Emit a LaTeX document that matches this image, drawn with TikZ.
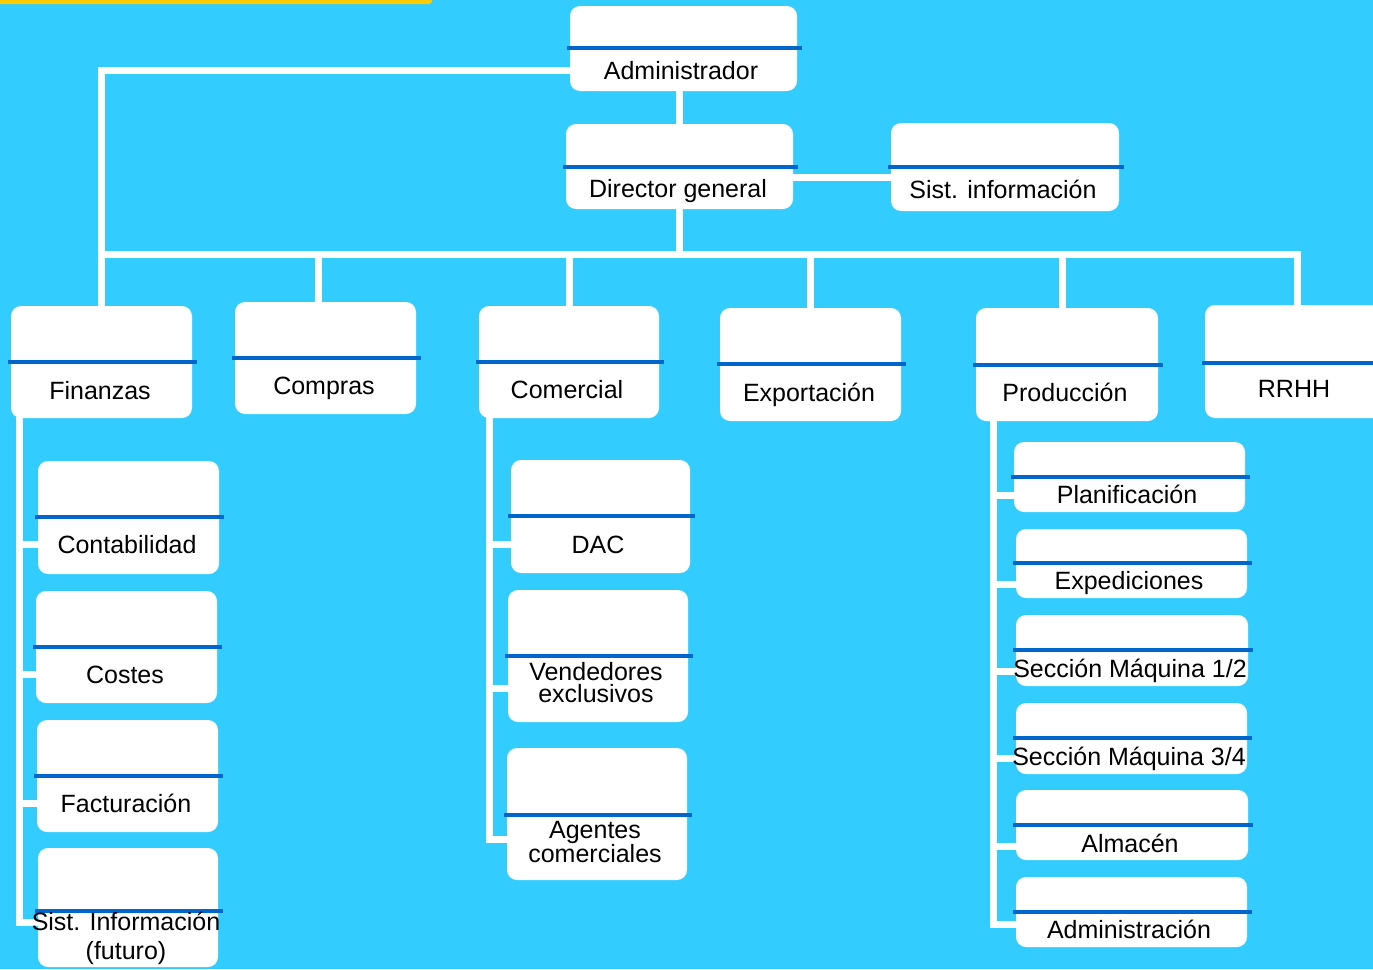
\documentclass[tikz,border=0pt]{standalone}
\usepackage{fontspec}
\setmainfont{Liberation Sans}
\pgfdeclarelayer{back}
\pgfsetlayers{back,main}
\definecolor{sky}{HTML}{33CCFF}
\definecolor{band}{HTML}{0066CC}
\definecolor{gold}{HTML}{FFCC00}
\tikzset{
  unitbox/.style={fill=white, draw=none, rounded corners=10pt, inner sep=0pt, outer sep=0pt},
  bandline/.style={draw=band, line width=4pt},
  link/.style={draw=white, line width=7pt, line cap=rect},
  lbl/.style={font=\fontsize{25}{30}\selectfont, text=black, inner sep=0pt, text height=18pt, text depth=0pt},
  lbltwo/.style={font=\fontsize{25}{22}\selectfont, text=black, inner sep=0pt, align=center},
  lblwide/.style={font=\fontsize{25}{29}\selectfont, text=black, inner sep=0pt, align=center}
}
% \orgunit{name}{x1}{y1}{x2}{y2}{band y}{entry y}
\newcommand\orgunit[7]{%
  \node[unitbox, minimum width={#4-#2}, minimum height={#5-#3}] (#1) at ({(#2+#4)/2},{(#3+#5)/2}) {};
  \draw[bandline] (#2-3,#6) -- (#4+5,#6);
  \coordinate (#1-in) at (#2,#7);
}
\begin{document}
\begin{tikzpicture}[x=1pt,y=-1pt]
\useasboundingbox (0,0) rectangle (1373,969);
\clip (0,0) rectangle (1373,969);
\begin{pgfonlayer}{back}
  \fill[sky] (0,0) rectangle (1373,969);
  \fill[gold, rounded corners=3pt] (-10,-10) rectangle (432,4);
\end{pgfonlayer}

% top management
\orgunit{adm}{570}{6}{797}{91}{48}{70}
\orgunit{dir}{566}{124}{793}{209}{167}{177}
\orgunit{si}{891}{123}{1119}{211}{167}{177}
\node[lbl] (adm-t) at (681,70) {Administrador};
\node[lbl] (dir-t) at (678,188) {Director general};
\node[lbl] (si-t) at (1003,189) {Sist. información};

% departments
\orgunit{fin}{11}{306}{192}{418}{362}{390}
\orgunit{comp}{235}{302}{416}{414}{358}{385}
\orgunit{com}{479}{306}{659}{418}{362}{389}
\orgunit{exp}{720}{308}{901}{421}{364}{392}
\orgunit{prod}{976}{308}{1158}{421}{365}{392}
\orgunit{rrhh}{1205}{305}{1390}{418}{363}{388}
\node[lbl] (fin-t) at (100,390) {Finanzas};
\node[lbl] (comp-t) at (324,385) {Compras};
\node[lbl] (com-t) at (567,389) {Comercial};
\node[lbl] (exp-t) at (809,392) {Exportación};
\node[lbl] (prod-t) at (1065,392) {Producción};
\node[lbl] (rrhh-t) at (1294,388) {RRHH};

% finance sections
\orgunit{cont}{38}{461}{219}{574}{517}{544}
\orgunit{cost}{36}{591}{217}{703}{647}{674}
\orgunit{fact}{37}{720}{218}{832}{776}{803}
\orgunit{sif}{38}{848}{218}{967}{911}{922}
\node[lbl] (cont-t) at (127,544) {Contabilidad};
\node[lbl] (cost-t) at (125,674) {Costes};
\node[lbl] (fact-t) at (126,803) {Facturación};
\node[lblwide] (sif-t) at (126,938) {Sist. Información\\(futuro)};

% sales sections
\orgunit{dac}{511}{460}{690}{573}{516}{544}
\orgunit{vend}{508}{590}{688}{722}{656}{688}
\orgunit{agen}{507}{748}{687}{880}{815}{839}
\node[lbl] (dac-t) at (598,544) {DAC};
\node[lbltwo] (vend-t) at (596,683) {Vendedores\\exclusivos};
\node[lbltwo] (agen-t) at (595,842) {Agentes\\comerciales};

% production sections
\orgunit{plan}{1014}{442}{1245}{512}{477}{495}
\orgunit{expe}{1016}{529}{1247}{598}{563}{584}
\orgunit{smA}{1016}{615}{1248}{686}{650}{671}
\orgunit{smB}{1016}{703}{1247}{774}{738}{758}
\orgunit{alm}{1016}{790}{1248}{860}{825}{846}
\orgunit{admn}{1016}{877}{1247}{947}{912}{924}
\node[lbl] (plan-t) at (1127,494) {Planificación};
\node[lbl] (expe-t) at (1129,580) {Expediciones};
\node[lbl] (smA-t) at (1130,668) {Sección Máquina 1/2};
\node[lbl] (smB-t) at (1129,756) {Sección Máquina 3/4};
\node[lbl] (alm-t) at (1130,843) {Almacén};
\node[lbl] (admn-t) at (1129,929) {Administración};

% connectors
\begin{pgfonlayer}{back}
  \coordinate (bus) at (678,254);
  \draw[link] (dir.north |- adm.south) -- (dir.north);
  \draw[link] (dir-in -| dir.east) -- (si-in);
  \draw[link] (adm.west |- adm-t) -| (fin.north);
  \draw[link] (dir.south) -- (dir.south |- bus);
  \draw[link] (fin.north |- bus) -- (rrhh.north |- bus);
  \draw[link] ([xshift=-7pt]comp.north |- bus) -- ([xshift=-7pt]comp.north);
  \draw[link] ([xshift=-5pt]prod.north |- bus) -- ([xshift=-5pt]prod.north);
  \foreach \d in {com,exp,rrhh}
    \draw[link] (\d.north |- bus) -- (\d.north);

  \coordinate (finspine) at ([xshift=8pt]fin.south west);
  \draw[link] (finspine) |- (sif-in);
  \foreach \c in {cont,cost,fact}
    \draw[link] (finspine |- \c-in) -- (\c-in);

  \coordinate (comspine) at ([xshift=10pt]com.south west);
  \draw[link] (comspine) |- (agen-in);
  \foreach \c in {dac,vend}
    \draw[link] (comspine |- \c-in) -- (\c-in);

  \coordinate (prodspine) at ([xshift=17pt]prod.south west);
  \draw[link] (prodspine) |- (admn-in);
  \foreach \c in {plan,expe,smA,smB,alm}
    \draw[link] (prodspine |- \c-in) -- (\c-in);
\end{pgfonlayer}
\end{tikzpicture}
\end{document}
